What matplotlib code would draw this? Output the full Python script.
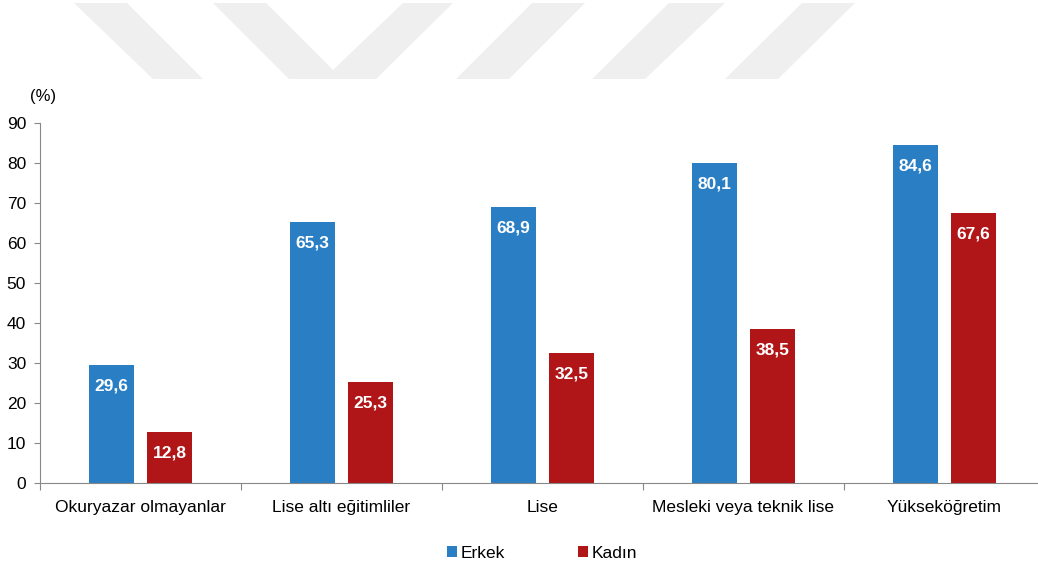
import numpy as np
import matplotlib.pyplot as plt
from matplotlib.patches import Polygon, Patch

plt.rcParams['font.family'] = ['Liberation Sans Narrow', 'Liberation Sans', 'DejaVu Sans']

# veri
kategoriler = ['Okuryazar olmayanlar', 'Lise altı eğitimliler', 'Lise',
               'Mesleki veya teknik lise', 'Yükseköğretim']
erkek = [29.6, 65.3, 68.9, 80.1, 84.6]
kadin = [12.8, 25.3, 32.5, 38.5, 67.6]
seriler = ['Erkek', 'Kadın']
renkler = ['#2a7fc4', '#b01517']

W, H = 1038, 569
fig = plt.figure(figsize=(W / 100, H / 100), dpi=100)

# arka plandaki gri filigran (piksel koordinatlari)
bantlar = [
    [(74, 3), (127, 3), (203, 79), (153, 79)],
    [(213, 3), (266, 3), (333, 70), (403, 3), (453, 3), (376, 79), (289, 79)],
    [(532, 3), (585, 3), (509, 79), (456, 79)],
    [(669, 3), (725, 3), (645, 79), (592, 79)],
    [(802, 3), (855, 3), (778, 79), (725, 79)],
]
for b in bantlar:
    pts = [(x / W, 1 - y / H) for x, y in b]
    fig.add_artist(Polygon(pts, closed=True, transform=fig.transFigure,
                           facecolor='#efefef', edgecolor='none', zorder=0))

ax = fig.add_axes([40 / W, 1 - 483 / H, 1005 / W, 360 / H])
ax.patch.set_alpha(0)

x = np.arange(len(kategoriler))
w = 0.224
off = 0.144
b1 = ax.bar(x - off, erkek, w, color=renkler[0], zorder=2)
b2 = ax.bar(x + off, kadin, w, color=renkler[1], zorder=2)

for bars, vals in [(b1, erkek), (b2, kadin)]:
    for r, v in zip(bars, vals):
        ax.annotate(('%.1f' % v).replace('.', ','),
                    (r.get_x() + r.get_width() / 2, v),
                    xytext=(0, -21), textcoords='offset pixels',
                    ha='center', va='center', color='white',
                    fontsize=12.5, fontweight='bold')

ax.set_xlim(-0.5, len(kategoriler) - 0.5)
ax.set_ylim(0, 90)
ax.set_yticks(range(0, 91, 10))
ax.tick_params(axis='y', labelsize=12.5, length=4, color='#888888', pad=6)
ax.set_xticks(np.arange(len(kategoriler) + 1) - 0.5)
ax.set_xticklabels([])
ax.set_xticks(x, minor=True)
ax.set_xticklabels(kategoriler, minor=True, fontsize=12.5)
ax.tick_params(axis='x', which='major', length=5, color='#888888')
ax.tick_params(axis='x', which='minor', length=0, pad=12)

for s in ['top', 'right']:
    ax.spines[s].set_visible(False)
for s in ['left', 'bottom']:
    ax.spines[s].set_color('#888888')

fig.text(30 / W, 1 - 97 / H, '(%)', fontsize=12, va='center', ha='left')

handles = [Patch(facecolor=c, edgecolor='none') for c in renkler]
fig.legend(handles, seriler, loc='center', bbox_to_anchor=(542 / W, 1 - 553 / H),
           ncol=2, frameon=False, fontsize=12.5, handlelength=0.6, handleheight=0.6,
           handletextpad=0.2, columnspacing=4.2)

fig.savefig('out.png', dpi=100)
